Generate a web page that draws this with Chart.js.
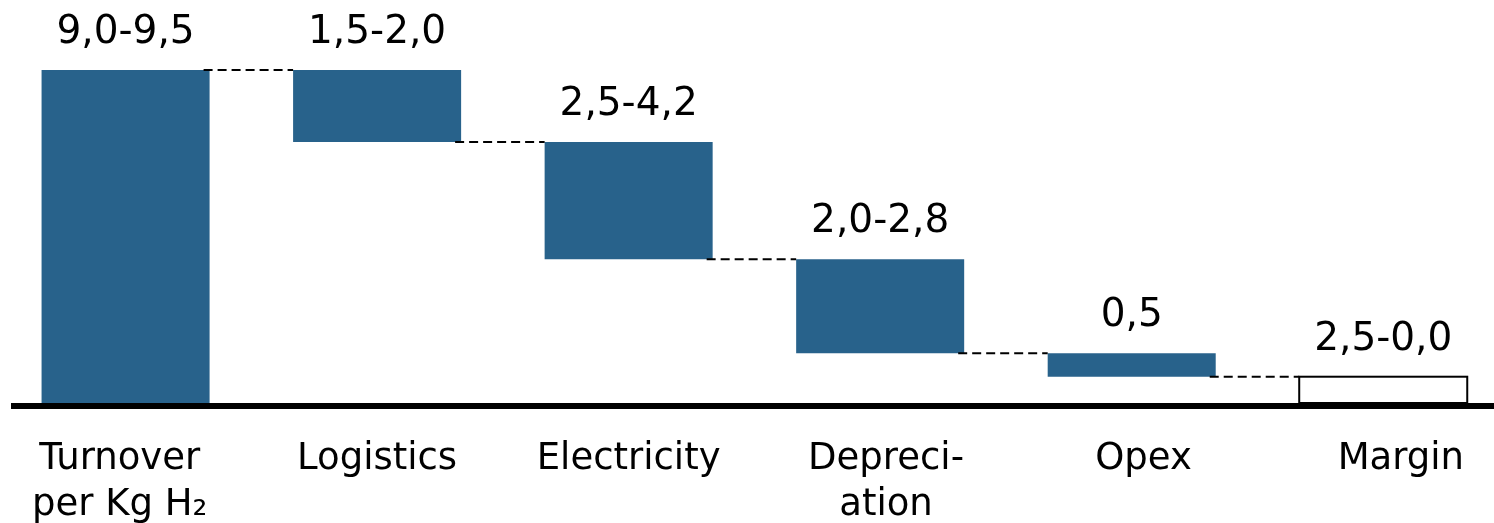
<!DOCTYPE html>
<html lang="en">
  <head>
    <meta charset="UTF-8" />
    <title>Waterfall H2</title>
    <script src="https://cdn.jsdelivr.net/npm/chart.js@4.4.0/dist/chart.umd.min.js"></script>
    <style>
      html, body { margin: 0; padding: 0; background: #fff; overflow: hidden; }
      #wrap { position: absolute; left: -1px; top: 0; width: 1510px; height: 523px; }
    </style>
  </head>
  <body>
    <div id="wrap">
      <canvas id="waterfall"></canvas>
    </div>

    <script>
      // categories (two-line labels, spaces nudge them like the original layout)
      const categories = [
        ["Turnover ", "per Kg H\u2082 "],
        ["Logistics"],
        ["Electricity"],
        [" Depreci-", " ation"],
        ["  Opex"],
        ["   Margin"]
      ];
      // floating bar bottoms and tops
      const barLow  = [0,   7.45, 4.1,  1.42, 0.75, 0];
      const barHigh = [9.5, 9.5,  7.45, 4.1,  1.42, 0.75];
      // range labels above the bars
      const rangeLabels = ["9,0-9,5", "1,5-2,0", "2,5-4,2", "2,0-2,8", "0,5", "2,5-0,0"];

      const blue = "#28628b";

      // dashed connectors + range labels + thick base line
      const waterfallExtras = {
        id: "waterfallExtras",
        afterDatasetsDraw(chart) {
          const ctx = chart.ctx;
          const meta = chart.getDatasetMeta(0);
          const y = chart.scales.y;
          ctx.save();

          // connectors between bars
          ctx.strokeStyle = "#000";
          ctx.lineWidth = 2;
          ctx.setLineDash([9, 5]);
          for (let i = 0; i < meta.data.length - 1; i++) {
            const a = meta.data[i];
            const b = meta.data[i + 1];
            const level = y.getPixelForValue(barHigh[i + 1]);
            ctx.beginPath();
            ctx.moveTo(a.x + a.width / 2 - 6, level);
            ctx.lineTo(b.x - b.width / 2, level);
            ctx.stroke();
          }
          ctx.setLineDash([]);

          // outline of the margin box
          const m = meta.data[5];
          ctx.lineWidth = 2;
          ctx.strokeRect(m.x - m.width / 2, m.y, m.width, m.base - m.y);

          // base line
          const base = y.getPixelForValue(0);
          ctx.lineWidth = 6;
          ctx.beginPath();
          ctx.moveTo(12, base + 3);
          ctx.lineTo(chart.width, base + 3);
          ctx.stroke();

          // labels
          ctx.fillStyle = "#000";
          ctx.font = "39px 'DejaVu Sans'";
          ctx.textAlign = "center";
          ctx.textBaseline = "alphabetic";
          meta.data.forEach((bar, i) => {
            ctx.fillText(rangeLabels[i], bar.x, y.getPixelForValue(barHigh[i]) - 27);
          });
          ctx.restore();
        }
      };

      const ctx = document.getElementById("waterfall").getContext("2d");

      new Chart(ctx, {
        type: "bar",
        data: {
          labels: categories,
          datasets: [
            {
              data: barLow.map((lo, i) => [lo, barHigh[i]]),
              backgroundColor: barLow.map((_, i) => i === 5 ? "#ffffff" : blue),
              borderWidth: 0,
              barPercentage: 0.668,
              categoryPercentage: 1
            }
          ]
        },
        options: {
          responsive: true,
          maintainAspectRatio: false,
          animation: false,
          layout: { padding: 0 },
          plugins: {
            legend: { display: false },
            tooltip: { enabled: false }
          },
          scales: {
            x: {
              grid: { display: false, drawTicks: false },
              border: { display: false },
              ticks: {
                color: "#000",
                font: { family: "DejaVu Sans", size: 37, lineHeight: 1.25 },
                padding: 33,
                maxRotation: 0,
                autoSkip: false
              },
              afterFit(scale) { scale.height = 120; }
            },
            y: {
              display: false,
              min: 0,
              max: 11.5
            }
          }
        },
        plugins: [waterfallExtras]
      });
    </script>
  </body>
</html>
